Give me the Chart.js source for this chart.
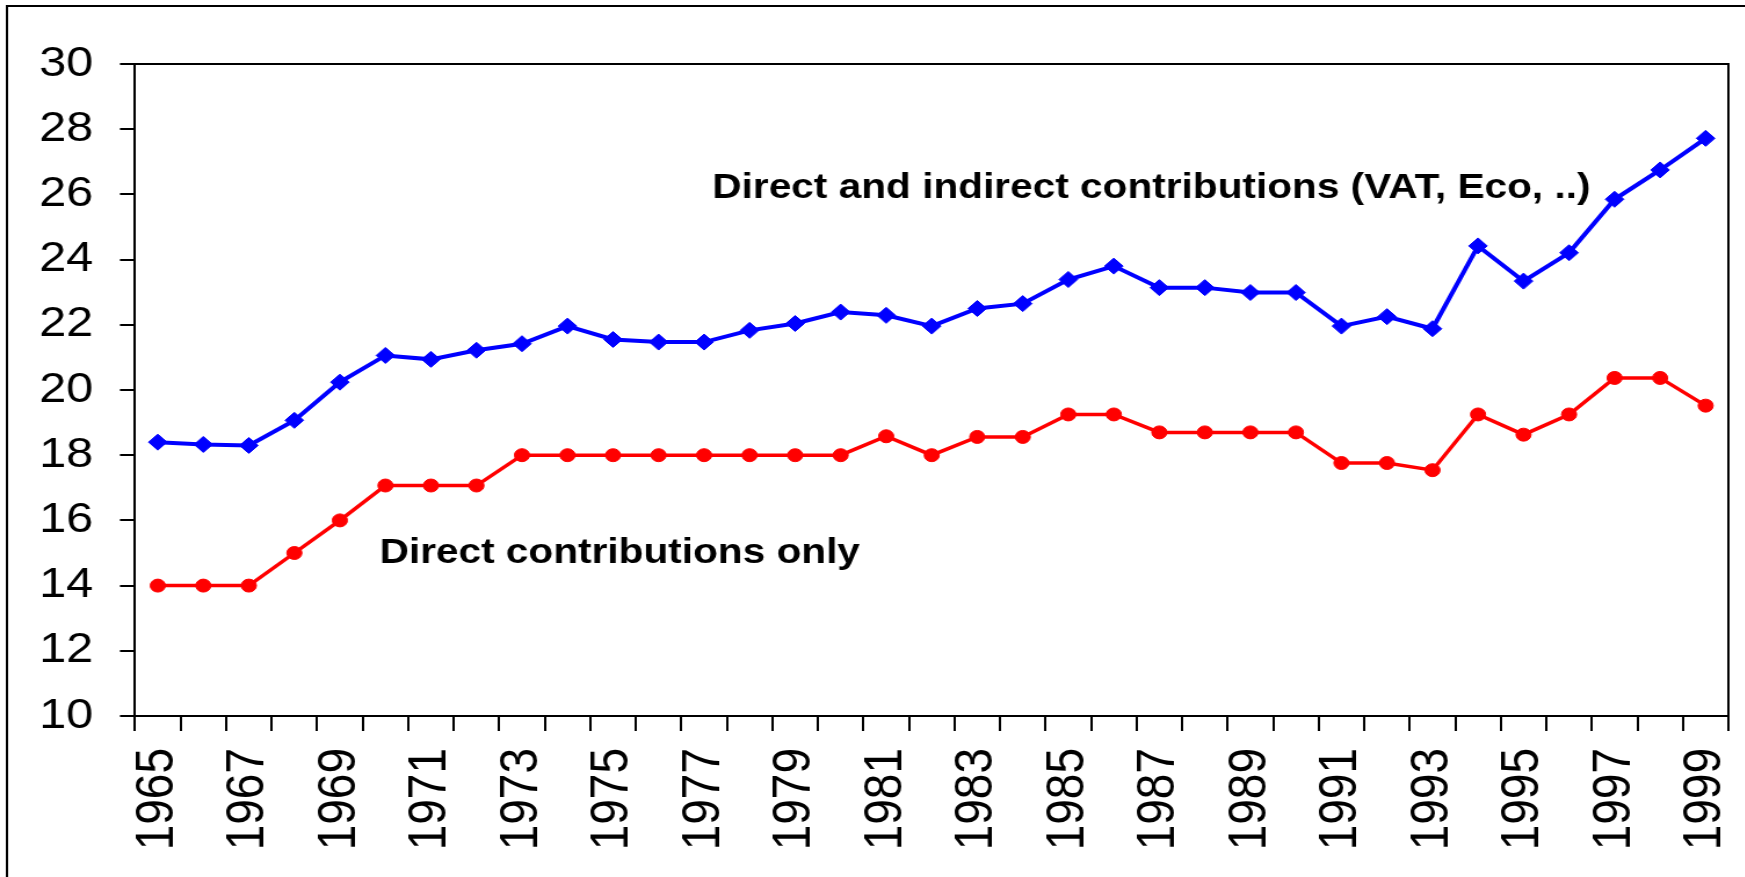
<!DOCTYPE html>
<html>
<head>
<meta charset="utf-8">
<script src="https://cdn.jsdelivr.net/npm/chart.js@4.4.1/dist/chart.umd.min.js"></script>
<style>
  html, body { margin: 0; padding: 0; background: #fff; overflow: hidden; }
  #wrap { width: 1504px; height: 877px; transform: scaleX(1.16); transform-origin: 0 0; }
</style>
</head>
<body>
<div id="wrap"><canvas id="contribChart" width="1504" height="877"></canvas></div>
<script>
// years on the x axis
var years = ["1965", "1966", "1967", "1968", "1969", "1970", "1971", "1972", "1973", "1974",
             "1975", "1976", "1977", "1978", "1979", "1980", "1981", "1982", "1983", "1984",
             "1985", "1986", "1987", "1988", "1989", "1990", "1991", "1992", "1993", "1994",
             "1995", "1996", "1997", "1998", "1999"];

// direct and indirect contributions (VAT, Eco, ..)
var totalContrib = [18.4, 18.33, 18.3, 19.07, 20.24, 21.06, 20.94, 21.22, 21.42, 21.96,
                    21.55, 21.47, 21.47, 21.83, 22.04, 22.39, 22.29, 21.96, 22.5, 22.65,
                    23.39, 23.8, 23.14, 23.14, 22.99, 22.99, 21.96, 22.25, 21.88, 24.42,
                    23.34, 24.21, 25.85, 26.75, 27.72];

// direct contributions only
var directContrib = [14, 14, 14, 15, 16, 17.07, 17.07, 17.07, 18, 18,
                     18, 18, 18, 18, 18, 18, 18.58, 18, 18.56, 18.56,
                     19.25, 19.25, 18.7, 18.7, 18.7, 18.7, 17.76, 17.76, 17.54, 19.25,
                     18.63, 19.25, 20.37, 20.37, 19.52];

var yMin = 10, yMax = 30, yStep = 2;

var seriesLabels = ["Direct and indirect contributions (VAT, Eco, ..)", "Direct contributions only"];

var fontFamily = "'Liberation Sans', Arial, sans-serif";

// frame + text labels drawn on top of the chart
var framePlugin = {
    id: "frame",
    afterDraw: function (chart) {
        var ctx = chart.ctx;
        var area = chart.chartArea;
        var xs = chart.scales.x, ys = chart.scales.y;
        ctx.save();
        ctx.strokeStyle = "#000";
        ctx.lineWidth = 2;
        // outer border (left + top)
        ctx.beginPath();
        ctx.moveTo(6, chart.height);
        ctx.lineTo(6, 6);
        ctx.lineTo(chart.width, 6);
        ctx.stroke();
        // plot box (top + right)
        ctx.beginPath();
        ctx.moveTo(area.left, area.top);
        ctx.lineTo(area.right, area.top);
        ctx.lineTo(area.right, area.bottom);
        ctx.stroke();
        // series labels
        ctx.fillStyle = "#000";
        ctx.font = "bold 35px " + fontFamily;
        ctx.textAlign = "left";
        ctx.textBaseline = "alphabetic";
        ctx.fillText(seriesLabels[0], xs.getPixelForValue(12.18), ys.getPixelForValue(25.9));
        ctx.fillText(seriesLabels[1], xs.getPixelForValue(4.87), ys.getPixelForValue(14.7));
        ctx.restore();
    }
};

var config = {
    type: "line",
    data: {
        labels: years,
        datasets: [
            {
                label: seriesLabels[0],
                data: totalContrib,
                borderColor: "#0000ff",
                backgroundColor: "#0000ff",
                borderWidth: 4,
                pointStyle: "rectRot",
                pointRadius: 8,
                pointBorderWidth: 1,
                tension: 0,
            },
            {
                label: seriesLabels[1],
                data: directContrib,
                borderColor: "#ff0000",
                backgroundColor: "#ff0000",
                borderWidth: 3.5,
                pointStyle: "circle",
                pointRadius: 6.5,
                pointBorderWidth: 1,
                tension: 0,
            },
        ],
    },
    options: {
        responsive: false,
        animation: false,
        layout: {
            padding: { left: 0, right: 14, top: 64, bottom: 0 },
        },
        plugins: {
            legend: { display: false },
            tooltip: { enabled: false },
        },
        scales: {
            x: {
                offset: true,
                grid: {
                    offset: true,
                    drawOnChartArea: false,
                    drawTicks: true,
                    tickLength: 15,
                    color: "#000",
                    lineWidth: 2,
                },
                border: { display: true, color: "#000", width: 2 },
                ticks: {
                    autoSkip: false,
                    minRotation: 90,
                    maxRotation: 90,
                    padding: 17,
                    color: "#000",
                    font: { family: fontFamily, size: 46 },
                    callback: function (value, index) {
                        return index % 2 === 0 ? this.getLabelForValue(value) : "";
                    },
                },
                afterFit: function (scale) {
                    scale.height = 161;
                    scale.paddingLeft = 0;
                    scale.paddingRight = 0;
                },
            },
            y: {
                min: yMin,
                max: yMax,
                grid: {
                    drawOnChartArea: false,
                    drawTicks: true,
                    tickLength: 13,
                    color: "#000",
                    lineWidth: 2,
                },
                border: { display: true, color: "#000", width: 2 },
                ticks: {
                    stepSize: yStep,
                    padding: 23,
                    color: "#000",
                    font: { family: fontFamily, size: 42 },
                },
                afterFit: function (scale) {
                    scale.width = 116.4;
                    scale.paddingTop = 0;
                    scale.paddingBottom = 0;
                },
            },
        },
    },
    plugins: [framePlugin],
};

var contribChart = new Chart(document.getElementById("contribChart"), config);
</script>
</body>
</html>
